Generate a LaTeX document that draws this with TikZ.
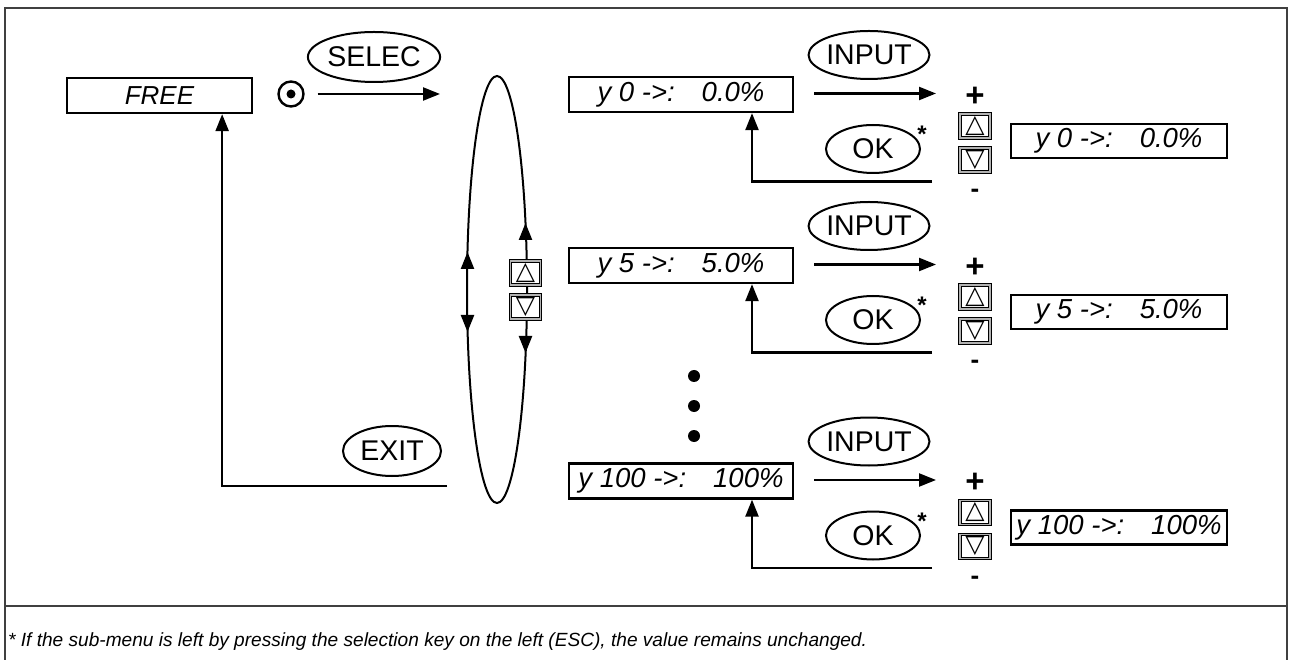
\documentclass[tikz,border=0pt]{standalone}
\usepackage{fontspec}
\setmainfont{Liberation Sans}
\newfontfamily\symfont{DejaVu Sans}
\usetikzlibrary{arrows.meta,shapes.geometric}

\begin{document}
\begin{tikzpicture}[x=1pt, y=1pt, line width=2.3pt,
    >={Triangle[length=17pt,width=13pt]},
    valbox/.style={draw, minimum width=224, minimum height=35, inner sep=0,
      font=\fontsize{27.5}{30}\selectfont\itshape},
    resbox/.style={valbox, minimum width=216, minimum height=34},
    button/.style={draw, ellipse, line width=2pt, minimum width=94,
      minimum height=48, inner sep=0, font=\fontsize{28.5}{30}\selectfont},
    keybox/.style={draw=black, double=gray!60, double distance=1.7pt,
      line width=0.9pt, fill=white, minimum width=30, minimum height=24,
      inner sep=0, font=\symfont\fontsize{25}{25}\selectfont},
    sign/.style={inner sep=0, font=\fontsize{33}{33}\selectfont\bfseries},
    minussign/.style={inner sep=0, anchor=base, font=\fontsize{26}{26}\selectfont\bfseries},
    star/.style={inner sep=0, font=\fontsize{24}{24}\selectfont\bfseries},
  ]
    \useasboundingbox (0,0) rectangle (1289,659);

    % frame and footnote
    \draw[line width=1.6pt, black!75] (5,-5) -- (5,651) -- (1287,651) -- (1287,-5);
    \draw[line width=1.6pt, black!75] (5,53) -- (1287,53);
    \node[anchor=base west, inner sep=0, font=\fontsize{19.1}{21}\selectfont\itshape]
      (note) at (7,13) {* If the sub-menu is left by pressing the selection key on the left (ESC), the value remains unchanged.};

    % main menu entry
    \node[valbox, minimum width=185, font=\fontsize{26}{28}\selectfont\itshape]
      (free) at (159.5,563.5) {FREE};
    \node[circle, draw, line width=2.4pt, minimum size=25, inner sep=0] (sel) at (291,565) {};
    \fill (sel) circle (4.5);
    \node[button, minimum width=96, minimum height=50] (selec) at (374,602) {SELEC};
    \coordinate (in) at (440,565);
    \draw[->, shorten <=13pt] (sel) -- (in);

    % selection loop
    \node[draw, ellipse, line width=2pt, minimum width=60, minimum height=427,
      inner sep=0] (loop) at (497,369.5) {};
    \draw[->] (467.5,395) -- (467.5,407);
    \draw[->] (467.5,339) -- (467.5,327);
    \draw[->] (525.5,424) -- (525.5,436);
    \draw[->] (525.5,318) -- (525.5,306);
    \node[keybox] (up) at (525.5,386) {△};
    \node[keybox] (dn) at (525.5,352) {▽};

    \node[button, minimum width=98, minimum height=50] (exit) at (392,208) {EXIT};
    \coordinate (back) at (447,173);
    \draw[->] (back) -| ([xshift=-31pt]free.south east);

    \foreach \i in {0,1,2}
      \fill (694,283-30*\i) circle (6);

    % y 0
    \begin{scope}[shift={(0,564.5)}]
        \node[valbox] (val) at (681,0) {y 0 ->:\hspace{27pt}0.0\%};
        \node[button] (input) at (869,39.5) {INPUT};
        \node[sign] (plus) at (975,-2) {+};
        \node[keybox] (kup) at (975,-31.5) {△};
        \node[keybox] (kdn) at (975,-65.5) {▽};
        \node[minussign] (minus) at (975,-103) {-};
        \node[resbox] (res) at (1119,-46.5) {y 0 ->:\hspace{27pt}0.0\%};
        \node[button] (ok) at (873,-54.5) {OK};
        \node[star] (ast) at (922,-40) {*};
        \coordinate (tip) at (936,1);
        \coordinate (ret) at (932,-87);
        \draw[->, shorten <=20pt] (val.east |- tip) -- (tip);
        \draw[->] (ret) -| ([xshift=71pt]val.south);
    \end{scope}

    % y 5
    \begin{scope}[shift={(0,393.5)}]
        \node[valbox] (val) at (681,0) {y 5 ->:\hspace{27pt}5.0\%};
        \node[button] (input) at (869,39.5) {INPUT};
        \node[sign] (plus) at (975,-2) {+};
        \node[keybox] (kup) at (975,-31.5) {△};
        \node[keybox] (kdn) at (975,-65.5) {▽};
        \node[minussign] (minus) at (975,-103) {-};
        \node[resbox] (res) at (1119,-46.5) {y 5 ->:\hspace{27pt}5.0\%};
        \node[button] (ok) at (873,-54.5) {OK};
        \node[star] (ast) at (922,-40) {*};
        \coordinate (tip) at (936,1);
        \coordinate (ret) at (932,-87);
        \draw[->, shorten <=20pt] (val.east |- tip) -- (tip);
        \draw[->] (ret) -| ([xshift=71pt]val.south);
    \end{scope}

    % y 100
    \begin{scope}[shift={(0,178)}]
        \node[valbox] (val) at (681,0) {y 100 ->:\hspace{27pt}100\%};
        \node[button] (input) at (869,39.5) {INPUT};
        \node[sign] (plus) at (975,-2) {+};
        \node[keybox] (kup) at (975,-31.5) {△};
        \node[keybox] (kdn) at (975,-65.5) {▽};
        \node[minussign] (minus) at (975,-103) {-};
        \node[resbox] (res) at (1119,-46.5) {y 100 ->:\hspace{27pt}100\%};
        \node[button] (ok) at (873,-54.5) {OK};
        \node[star] (ast) at (922,-40) {*};
        \coordinate (tip) at (936,1);
        \coordinate (ret) at (932,-87);
        \draw[->, shorten <=20pt] (val.east |- tip) -- (tip);
        \draw[->] (ret) -| ([xshift=71pt]val.south);
    \end{scope}
\end{tikzpicture}
\end{document}
